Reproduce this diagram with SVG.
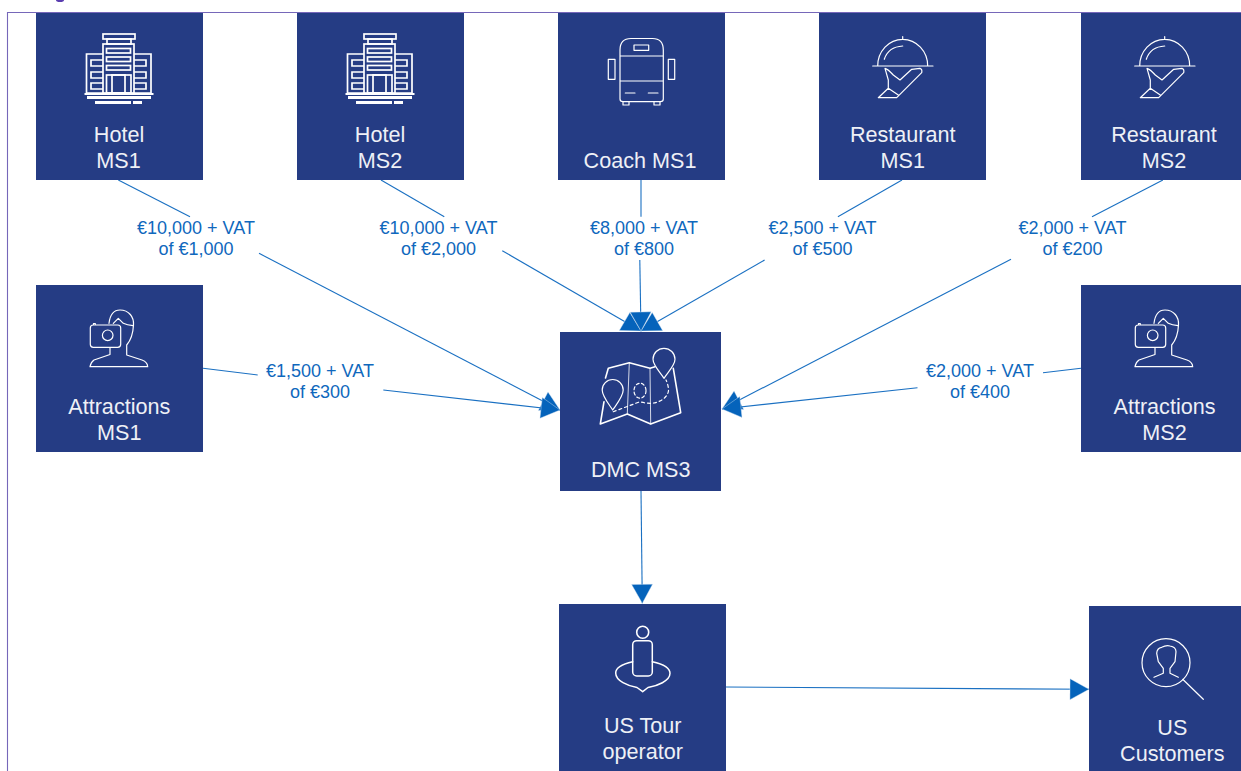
<svg xmlns="http://www.w3.org/2000/svg" width="1241" height="771" viewBox="0 0 1241 771">
<style>
.box{fill:#253c84}
.t{font-family:"Liberation Sans",Arial,sans-serif;font-size:21.6px;fill:#eef0f6;text-anchor:middle}
.l{font-family:"Liberation Sans",Arial,sans-serif;font-size:18px;fill:#0f68bd;text-anchor:middle}
.i{fill:none;stroke:#fff;stroke-width:1.2;stroke-linejoin:round;stroke-linecap:round}
.h{fill:none;stroke:#fff;stroke-width:1.7}
.c{fill:none;stroke:#1a70c2;stroke-width:1.1}
.a{marker-end:url(#arr)}
</style>
<defs>
<marker id="arr" markerUnits="userSpaceOnUse" markerWidth="21" markerHeight="23" viewBox="-1 -1 21 23" refX="19" refY="10.5" orient="auto" overflow="visible"><path d="M0,0 L19,10.5 L0,21Z" fill="#0563bb" stroke="#dbe8f5" stroke-width=".4"/></marker>
<g id="hotel">
<rect class="h" x="103" y="34" width="32" height="5"/><rect class="h" x="107" y="39" width="24" height="5"/>
<rect class="h" x="103" y="44" width="31" height="49"/><rect class="h" x="106.500" y="48.500" width="24" height="4.500"/><rect class="h" x="106.500" y="57" width="24" height="4.500"/><rect class="h" x="106.500" y="65.500" width="24" height="4.500"/>
<rect class="h" x="106.500" y="75" width="24.500" height="18"/><rect class="h" x="112" y="75" width="13" height="18"/>
<path class="h" d="M103,54H86.500V93H103M134,54H151V93H134"/>
<path class="h" d="M103,60H91V66H103M103,72H91V78H103M103,83H91V89H103M134,60H146V66H134M134,72H146V78H134M134,83H146V89H134"/>
<rect x="84.500" y="93" width="69" height="2" fill="#fff"/><rect x="87" y="96" width="64" height="3" fill="#fff"/><rect x="95" y="101" width="36" height="3" fill="#fff"/><rect x="133" y="101" width="9" height="3" fill="#fff"/>
</g>
<g id="cloche">
<path class="i" d="M877.700,66A25,26.700 0 0 1 927.700,66M872.700,66H933M902.700,39.300V36.500M884.300,59.300C887,51 894,46.500 902.700,46"/>
<path class="i" d="M885,68.300L888.300,80V88.300L878.300,97.700H896.700L921.700,72.700Q922.500,69 920,68.300L911.700,69.300L900,80L893.300,75Q888,69 885,68.300ZM888.300,88.300L898.300,95"/>
</g>
<g id="attr">
<rect class="i" x="90.300" y="325" width="30.400" height="22.300" rx="3"/><circle class="i" cx="107.700" cy="335.300" r="5.300"/><path class="i" d="M93.500,324.500V323.500H95.300V324.500"/>
<path class="i" d="M109,323.300C110,315 114,310 120,310C129,310 134,317 133.500,325C133,335 131,340 126.700,345V355L142,360Q147.500,362 147.700,366.700H90Q91,362 94,360L110,354.500V347.700"/>
<path class="i" d="M113.300,323.300L118.300,318.300L123.300,323.300Q127,325 133,325.700"/>
</g>
</defs>
<g id="frame"><path d="M7.500,771V12.500H1241" fill="none" stroke="#7667b9" stroke-width="1.100"/><path d="M56,0A4,2 0 0 0 64,0Z" fill="#5a3db0"/></g>
<g id="connectors">
<path class="c" d="M118.300,180L190,216.700"/><path class="c a" d="M259,253.300L560,410"/>
<path class="c" d="M381,180L444.300,216.700"/><path class="c a" d="M502.300,250.700L641,331"/>
<path class="c" d="M902,180L837.900,216.700"/><path class="c a" d="M764.600,260L641,331"/>
<path class="c" d="M641,180V216.700"/><path class="c a" d="M639.800,260L641,331"/>
<path class="c" d="M1162.900,180L1092,216.700"/><path class="c a" d="M1011,259.300L722,409"/>
<path class="c" d="M203,368.300L257.700,375"/><path class="c a" d="M383.300,390L560,410"/>
<path class="c" d="M1081,368.300L1043,372.700"/><path class="c a" d="M917.500,387.700L722,409"/>
<path class="c a" d="M641,491L642.300,603.300"/>
<path class="c a" d="M726,687L1089,689.300"/>
</g>
<g id="labels">
<text class="l" x="196" y="234">€10,000 + VAT</text><text class="l" x="196" y="255">of €1,000</text>
<text class="l" x="438.500" y="234">€10,000 + VAT</text><text class="l" x="438.500" y="255">of €2,000</text>
<text class="l" x="644" y="234">€8,000 + VAT</text><text class="l" x="644" y="255">of €800</text>
<text class="l" x="822.500" y="234">€2,500 + VAT</text><text class="l" x="822.500" y="255">of €500</text>
<text class="l" x="1072.500" y="234">€2,000 + VAT</text><text class="l" x="1072.500" y="255">of €200</text>
<text class="l" x="320" y="377">€1,500 + VAT</text><text class="l" x="320" y="398">of €300</text>
<text class="l" x="980" y="377">€2,000 + VAT</text><text class="l" x="980" y="398">of €400</text>
</g>
<g id="hotel-ms1"><rect class="box" x="36" y="13" width="167" height="167"/><use href="#hotel"/><text class="t" x="119" y="142">Hotel</text><text class="t" x="118.500" y="168">MS1</text></g>
<g id="hotel-ms2"><rect class="box" x="297" y="13" width="167" height="167"/><use href="#hotel" x="261"/><text class="t" x="380" y="142">Hotel</text><text class="t" x="380" y="168">MS2</text></g>
<g id="coach-ms1"><rect class="box" x="558" y="13" width="167" height="167"/>
<path class="i" d="M620,56V50Q620,38.500 631,38.500H652.500Q663.300,38.500 663.300,50V99Q663.300,101.700 660.500,101.700H623Q620,101.700 620,99ZM620,56H663.300M620,81H663.300M625.300,93H635M648.300,93H658M623,101.700V105H629V101.700M654,101.700V105H660V101.700"/>
<rect class="i" x="634" y="45" width="14.700" height="5.300"/><rect class="i" x="608.300" y="59.300" width="6.700" height="20"/><rect class="i" x="668.300" y="59.300" width="6.400" height="20"/>
<text class="t" x="640" y="168">Coach MS1</text></g>
<g id="restaurant-ms1"><rect class="box" x="819" y="13" width="167" height="167"/><use href="#cloche"/><text class="t" x="902.700" y="142">Restaurant</text><text class="t" x="902.700" y="168">MS1</text></g>
<g id="restaurant-ms2"><rect class="box" x="1081" y="13" width="167" height="167"/><use href="#cloche" x="262"/><text class="t" x="1164" y="142">Restaurant</text><text class="t" x="1164" y="168">MS2</text></g>
<g id="attractions-ms1"><rect class="box" x="36" y="285" width="167" height="167"/><use href="#attr"/><text class="t" x="119.300" y="413.500">Attractions</text><text class="t" x="119.300" y="439.500">MS1</text></g>
<g id="attractions-ms2"><rect class="box" x="1081" y="285" width="167" height="167"/><use href="#attr" x="1045"/><text class="t" x="1164.500" y="413.500">Attractions</text><text class="t" x="1164.500" y="439.500">MS2</text></g>
<g id="dmc-ms3"><rect class="box" x="560" y="332" width="161" height="159"/>
<path class="i" style="stroke-width:1.600" d="M605.500,378L608.300,368.300L629.300,362.700L650,368.300L655,366.700M673.300,368.300L680.700,412.700L650.700,424L627.300,414L600.300,424L604,401.700"/>
<path class="i" style="stroke-width:.8" d="M629.300,362.700L627.300,414M650,368.300L650.700,424"/>
<path class="i" d="M664,378.300C659,371 653,365 653,359.300A11,11 0 0 1 675,359.300C675,365 669,371 664,378.300Z"/>
<path class="i" d="M612.700,410C608,403 602.200,396 602.200,390A10.500,10.500 0 0 1 623.200,390C623.200,396 617.500,403 612.700,410Z"/>
<ellipse class="i" cx="640" cy="390.700" rx="6" ry="7.500" stroke-dasharray="3 2.500"/>
<path class="i" stroke-dasharray="3 3" d="M613.300,411.700L640,401.700Q646,403.500 651.700,403.300C662,402 669,396 668.500,389Q668,384 666,380"/>
<text class="t" x="640.700" y="477">DMC MS3</text></g>
<g id="us-tour-operator"><rect class="box" x="559" y="604" width="167" height="167"/>
<circle class="i" cx="642.700" cy="632.300" r="6" style="stroke-width:1.600"/>
<rect class="i" x="632.700" y="640.700" width="19.600" height="35.300" rx="4" style="stroke-width:1.500"/>
<path class="i" style="stroke-width:1.500" d="M632.700,661.700C622,664 615.700,668 615.700,673C615.700,681 628,686 637,687.500L642.700,691.700L648,687.500C657,686 670,681 670,673.300C670,668 663,664 652.300,661.700"/>
<text class="t" x="642.700" y="733.300">US Tour</text><text class="t" x="642.700" y="759">operator</text></g>
<g id="us-customers"><rect class="box" x="1089" y="606" width="152" height="165"/>
<circle class="i" cx="1166" cy="662.700" r="24"/><path class="i" d="M1182.700,679.300L1203.300,699.300"/>
<path class="i" d="M1154,677.300L1163.300,673.300V668.300L1158.300,661.700L1156.700,653.300Q1157,648 1161.700,647.300Q1166,645 1170,646Q1176,647 1176,651.700L1175,661.700L1170,668.300V673.300L1178.300,677.300"/>
<text class="t" x="1172.300" y="734.500">US</text><text class="t" x="1172.300" y="760.500">Customers</text></g>
</svg>
